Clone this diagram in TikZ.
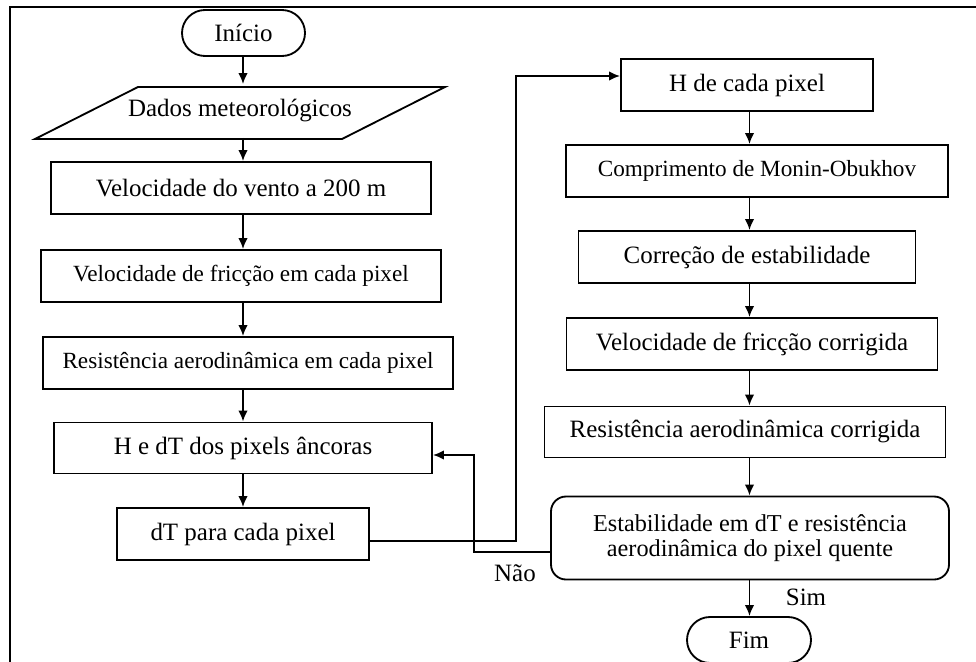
\documentclass[tikz,border=0pt]{standalone}
\usepackage{fontspec}
\setmainfont{Liberation Serif}
\usetikzlibrary{arrows.meta,shapes.misc}

\begin{document}
\begin{tikzpicture}[
    line width=1.05pt,
    box/.style={draw, rectangle, minimum height=1.04cm, inner sep=0pt, font=\fontsize{14.2}{16}\selectfont},
    terminal/.style={draw, rounded rectangle, minimum width=2.46cm, minimum height=0.92cm, inner sep=0pt, font=\fontsize{14.2}{16}\selectfont},
    smalltext/.style={font=\fontsize{13.2}{16}\selectfont},
    flow/.style={-{Latex[length=0.22cm,width=0.19cm]}}
  ]
  \useasboundingbox (0,0) rectangle (19.52,-13.22);

  % Frame (cut by the page)
  \draw (0.2,-13.4) -- (0.2,-0.14) -- (19.7,-0.14);

  % Left column
  \coordinate (lcol) at (4.86,0);
  \node[terminal] (inicio) at (4.87,-0.66) {Início};
  \node[minimum height=1.04cm, minimum width=4cm, inner sep=0pt, font=\fontsize{14.2}{16}\selectfont] (dados) at (4.8,-2.22) {Dados meteorológicos};
  \draw (0.7,-2.78) -- (2.76,-1.74) -- (8.9,-1.74) -- (6.84,-2.78) -- cycle;
  \node[box, minimum width=7.6cm] (vento) at (4.82,-3.76) {Velocidade do vento a 200 m};
  \node[box, smalltext, minimum width=8cm] (friccao) at (4.82,-5.52) {Velocidade de fricção em cada pixel};
  \node[box, smalltext, minimum width=8.2cm] (resist) at (4.96,-7.26) {Resistência aerodinâmica em cada pixel};
  \node[box, minimum width=7.56cm, minimum height=1.02cm] (hdt) at (4.86,-8.96) {H e dT dos pixels âncoras};
  \node[box, minimum width=5.04cm] (dtpix) at (4.86,-10.68) {dT para cada pixel};

  \foreach \a/\b in {inicio/dados, dados/vento, vento/friccao, friccao/resist, resist/hdt, hdt/dtpix}
    \draw[flow] (\a.south -| lcol) -- (\b.north -| lcol);

  % Right column
  \coordinate (rcol) at (14.99,0);
  \node[box, minimum width=5.04cm] (hpix) at (14.94,-1.70) {H de cada pixel};
  \node[box, smalltext, minimum width=7.64cm] (monin) at (15.14,-3.42) {Comprimento de Monin-Obukhov};
  \node[box, minimum width=6.74cm] (correcao) at (14.94,-5.14) {Correção de estabilidade};
  \node[box, minimum width=7.42cm] (ufric) at (15.04,-6.88) {Velocidade de fricção corrigida};
  \node[box, minimum width=8.02cm, minimum height=1.02cm] (rcorr) at (14.9,-8.64) {Resistência aerodinâmica corrigida};
  \node[box, rounded corners=0.3cm, minimum width=7.96cm, minimum height=1.66cm, align=center, font=\fontsize{13.8}{14.2}\selectfont] (estab) at (15.0,-10.76) {Estabilidade em dT e resistência\\aerodinâmica do pixel quente};
  \node[terminal, minimum width=2.48cm] (fim) at (14.98,-12.8) {Fim};

  \foreach \a/\b in {hpix/monin, monin/correcao, correcao/ufric, ufric/rcorr, rcorr/estab, estab/fim}
    \draw[flow] (\a.south -| rcol) -- (\b.north -| rcol);

  % Jump to the right column
  \coordinate (dout) at ([yshift=-0.14cm]dtpix.east);
  \coordinate (hin) at ([yshift=0.18cm]hpix.west);
  \coordinate (upline) at (10.32,0);
  \draw[flow] (dout) -| (upline |- hin) -- (hin);

  % Loop back
  \coordinate (eout) at ([yshift=-0.28cm]estab.west);
  \coordinate (hdin) at ([yshift=-0.14cm]hdt.east);
  \coordinate (backline) at (9.48,0);
  \draw[flow] (eout) -| (backline |- hdin) -- (hdin);

  \node[font=\fontsize{14.2}{16}\selectfont] (nao) at (10.3,-11.46) {Não};
  \node[font=\fontsize{14.2}{16}\selectfont] (sim) at (16.12,-11.94) {Sim};
\end{tikzpicture}
\end{document}
